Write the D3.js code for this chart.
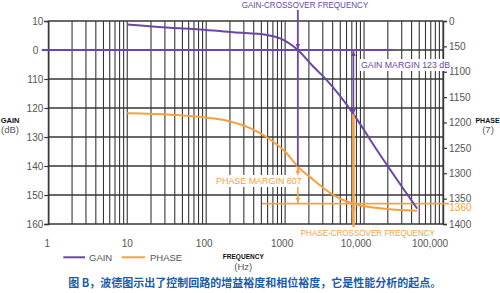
<!DOCTYPE html>
<html><head><meta charset="utf-8">
<script src="https://cdn.jsdelivr.net/npm/d3@7"></script>
<style>
html,body{margin:0;padding:0;background:#fff;}
svg{display:block;font-family:"Liberation Sans",Arial,sans-serif;}
</style></head>
<body><svg id="c" width="500" height="293"></svg>
<script>
const freqTicks = [1, 10, 100, 1000, 10000, 100000];
const freqLabels = ["1", "10", "100", "1000", "10,000", "100,000"];
const gainTicks = [10, 0, -10, -20, -30, -40, -50, -60];
const gainLabels = ["10", "0", "110", "120", "130", "140", "150", "160"];
const phaseTicks = [0, -50, -100, -150, -200, -250, -300, -350, -400];
const phaseLabels = ["0", "150", "1100", "1150", "1200", "1250", "1300", "1350", "1400"];
const gainFreq = [10, 35, 84, 221, 587, 865, 1449, 2285, 3214, 7345, 14530, 47100];
const gainDb = [8.8, 7.7, 7.1, 6.1, 5.2, 4.0, 0, -5.8, -9.8, -22.1, -34.5, -54.7];
const phaseFreq = [10, 38, 84, 201, 360, 587, 1052, 1449, 2285, 4093, 7345, 16000, 47100];
const phaseDeg = [-182, -185, -189, -198, -211, -229, -261, -287, -313, -343, -360, -369, -374];
const gainCrossoverHz = 1449;
const phaseCrossoverHz = 7345;
const gainRefDb = 0;
const phaseRefDeg = -360;
const phaseRefLabel = "1360";
const phaseAtGainCrossover = -287;
const gainAtPhaseCrossover = -22.1;
const seriesNames = ["GAIN", "PHASE"];
const caption = "图 B，波德图示出了控制回路的增益裕度和相位裕度，它是性能分析的起点。";

const PURPLE = "#6b46a6", ORANGE = "#f5a13c", GRID = "#363636", TXT = "#555";
const svg = d3.select("#c");
const x = d3.scaleLog().domain([1, 100000]).range([48.3, 443]);
const yG = d3.scaleLinear().domain([10, -60]).range([21, 224]);
const yP = d3.scaleLinear().domain([0, -400]).range([21, 224]);

// vertical grid
const minor = [];
for (let d = 1; d <= 10000; d *= 10) for (let k = 1; k <= 9; k++) minor.push(d * k);
minor.push(100000);
svg.append("g").selectAll("line").data(minor).join("line")
  .attr("x1", d => x(d)).attr("x2", d => x(d)).attr("y1", yG(10)).attr("y2", yG(-60))
  .attr("stroke", GRID).attr("stroke-width", 1.1);
// horizontal grid
svg.append("g").selectAll("line").data(gainTicks).join("line")
  .attr("x1", x(1)).attr("x2", x(100000)).attr("y1", d => yG(d)).attr("y2", d => yG(d))
  .attr("stroke", GRID).attr("stroke-width", 1.4);

// left axis
const axL = svg.append("g").attr("transform", `translate(${x(1)},0)`)
  .call(d3.axisLeft(yG).tickValues(gainTicks).tickSize(4).tickPadding(1).tickFormat((d, i) => gainLabels[i]));
axL.select(".domain").attr("stroke", GRID).attr("stroke-width", 1.4);
axL.selectAll(".tick line").attr("stroke", GRID).attr("stroke-width", 1.2);
axL.selectAll(".tick text").attr("fill", TXT).attr("font-size", 10).attr("font-family", "Liberation Sans, Arial, sans-serif")
  .attr("dx", d => d === 0 ? -5 : 0);
// right axis
const axR = svg.append("g").attr("transform", `translate(${x(100000)},0)`)
  .call(d3.axisRight(yP).tickValues(phaseTicks).tickSize(4).tickPadding(2).tickFormat((d, i) => phaseLabels[i]));
axR.select(".domain").attr("stroke", GRID).attr("stroke-width", 1.4);
axR.selectAll(".tick line").attr("stroke", GRID).attr("stroke-width", 1.2);
axR.selectAll(".tick text").attr("fill", TXT).attr("font-size", 10).attr("font-family", "Liberation Sans, Arial, sans-serif");
// bottom labels
const xOff = [-1, 0, -2, -3, -8, -13];
svg.append("g").selectAll("text").data(freqTicks).join("text")
  .attr("x", (d, i) => x(d) + xOff[i]).attr("y", 247).attr("text-anchor", "middle")
  .attr("fill", TXT).attr("font-size", 10).text((d, i) => freqLabels[i]);

// reference lines
svg.append("line").attr("x1", x(1) - 6.5).attr("x2", 393).attr("y1", yG(gainRefDb)).attr("y2", yG(gainRefDb))
  .attr("stroke", PURPLE).attr("stroke-width", 1.8);
svg.append("line").attr("x1", 262).attr("x2", 449).attr("y1", yP(phaseRefDeg)).attr("y2", yP(phaseRefDeg))
  .attr("stroke", ORANGE).attr("stroke-width", 1.8);

// curves
const line = d3.line().curve(d3.curveMonotoneX);
svg.append("path").attr("d", line(phaseFreq.map((f, i) => [x(f), yP(phaseDeg[i])])))
  .attr("fill", "none").attr("stroke", ORANGE).attr("stroke-width", 2);
svg.append("path").attr("d", line(gainFreq.map((f, i) => [x(f), yG(gainDb[i])])))
  .attr("fill", "none").attr("stroke", PURPLE).attr("stroke-width", 2);

// markers
function arrow(px, py, dir, col) { // tip at (px,py), dir: 1 down, -1 up
  const h = 5 * dir, w = 2.3;
  svg.append("path").attr("d", `M${px},${py}L${px - w},${py - h}L${px + w},${py - h}Z`).attr("fill", col);
}
const xg = x(gainCrossoverHz), xp = x(phaseCrossoverHz);
// gain crossover
svg.append("line").attr("x1", xg).attr("x2", xg).attr("y1", 10).attr("y2", yP(phaseAtGainCrossover))
  .attr("stroke", PURPLE).attr("stroke-width", 1.8);
arrow(xg, yG(gainRefDb) - 1, 1, PURPLE);
// phase margin
svg.append("line").attr("x1", xg).attr("x2", xg).attr("y1", yP(phaseAtGainCrossover)).attr("y2", yP(phaseRefDeg))
  .attr("stroke", ORANGE).attr("stroke-width", 1.5);
arrow(xg, yP(phaseAtGainCrossover) + 1, -1, ORANGE);
arrow(xg, yP(phaseRefDeg) - 1, 1, ORANGE);
// phase crossover
svg.append("line").attr("x1", xp).attr("x2", xp).attr("y1", yG(gainAtPhaseCrossover)).attr("y2", 228)
  .attr("stroke", ORANGE).attr("stroke-width", 2.5);
arrow(xp, yP(phaseRefDeg) + 1, -1, ORANGE);
// gain margin
svg.append("line").attr("x1", xp).attr("x2", xp).attr("y1", yG(gainRefDb)).attr("y2", yG(gainAtPhaseCrossover))
  .attr("stroke", PURPLE).attr("stroke-width", 1.5);
arrow(xp, yG(gainRefDb) + 1, -1, PURPLE);
arrow(xp, yG(gainAtPhaseCrossover), 1, PURPLE);

// annotation labels
function label(txt, x0, x1, cy, col, bg) {
  if (bg) svg.append("rect").attr("x", x0 - 1).attr("y", cy - 6).attr("width", x1 - x0 + 2).attr("height", 12).attr("fill", "#fff");
  svg.append("text").attr("x", x0).attr("y", cy + 3.4).attr("fill", col).attr("font-size", 9.5)
    .attr("textLength", x1 - x0).attr("lengthAdjust", "spacingAndGlyphs").text(txt);
}
label("GAIN-CROSSOVER  FREQUENCY", 241.7, 368.3, 5, PURPLE, false);
label("GAIN  MARGIN  123  dB", 361, 450, 65, PURPLE, true);
label("PHASE  MARGIN  807", 216, 301.7, 181, ORANGE, true);
label("PHASE-CROSSOVER  FREQUENCY", 300.7, 435, 232.7, ORANGE, true);
svg.append("text").attr("x", 449.3).attr("y", 210.8).attr("fill", ORANGE).attr("font-size", 10).text(phaseRefLabel);

// axis titles
svg.append("text").attr("x", 10).attr("y", 123).attr("text-anchor", "middle").attr("font-size", 7.5).attr("font-weight", "bold")
  .attr("fill", "#111").text("GAIN");
svg.append("text").attr("x", 10).attr("y", 133).attr("text-anchor", "middle").attr("font-size", 9.5).attr("fill", TXT).text("(dB)");
svg.append("text").attr("x", 487.5).attr("y", 123).attr("text-anchor", "middle").attr("font-size", 7).attr("font-weight", "bold")
  .attr("fill", "#111").text("PHASE");
svg.append("text").attr("x", 488).attr("y", 133).attr("text-anchor", "middle").attr("font-size", 9.5).attr("fill", TXT).text("(7)");
svg.append("text").attr("x", 243.3).attr("y", 259).attr("text-anchor", "middle").attr("font-size", 8).attr("font-weight", "bold")
  .attr("fill", "#111").attr("textLength", 41).attr("lengthAdjust", "spacingAndGlyphs").text("FREQUENCY");
svg.append("text").attr("x", 243.3).attr("y", 270).attr("text-anchor", "middle").attr("font-size", 9.5).attr("fill", TXT).text("(Hz)");

// legend
const lg = [[63.3, 85, 89, PURPLE], [121.7, 145, 150, ORANGE]];
seriesNames.forEach((n, i) => {
  const [a, b, t, c] = lg[i];
  svg.append("line").attr("x1", a).attr("x2", b).attr("y1", 257.3).attr("y2", 257.3).attr("stroke", c).attr("stroke-width", 2);
  svg.append("text").attr("x", t).attr("y", 260.8).attr("font-size", 9.5).attr("fill", TXT).text(n);
});

// caption
svg.append("text").attr("x", 68.3).attr("y", 287.3).attr("font-size", 11).attr("font-weight", "bold")
  .attr("font-family", "Noto Sans CJK SC, sans-serif").attr("fill", "#1a5ca8").text(caption);
</script></body></html>
